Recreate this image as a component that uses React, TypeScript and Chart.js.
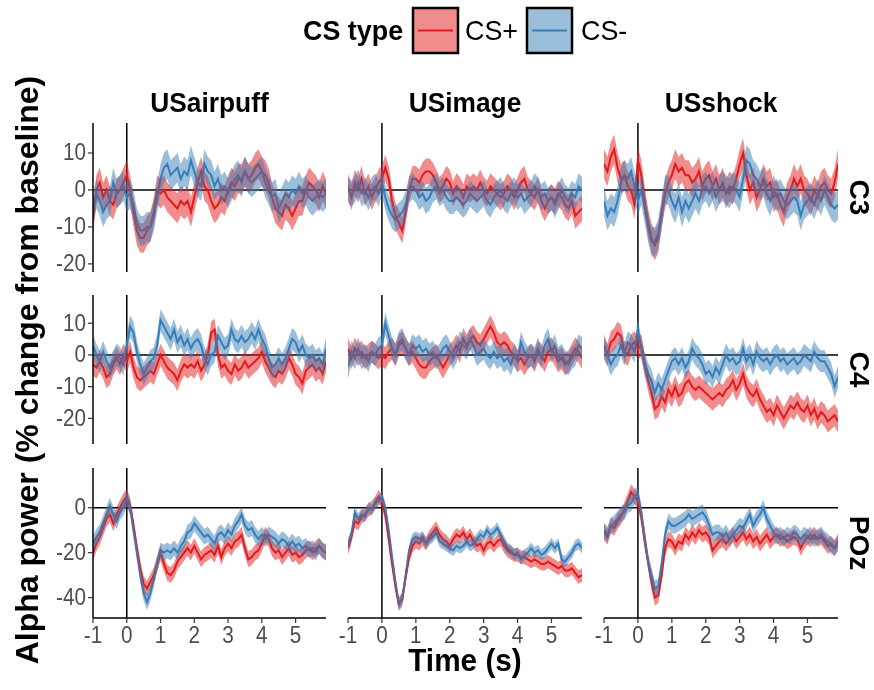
import React, { useEffect, useRef } from 'react';
import { Chart, registerables } from 'chart.js';

Chart.register(...registerables);

// ---------------- data ----------------
const TIME = [
  -1.0, -0.9, -0.8, -0.7, -0.6, -0.5, -0.4, -0.3, -0.2, -0.1,
  0.0, 0.1, 0.2, 0.3, 0.4, 0.5, 0.6, 0.7, 0.8, 0.9,
  1.0, 1.1, 1.2, 1.3, 1.4, 1.5, 1.6, 1.7, 1.8, 1.9,
  2.0, 2.1, 2.2, 2.3, 2.4, 2.5, 2.6, 2.7, 2.8, 2.9,
  3.0, 3.1, 3.2, 3.3, 3.4, 3.5, 3.6, 3.7, 3.8, 3.9,
  4.0, 4.1, 4.2, 4.3, 4.4, 4.5, 4.6, 4.7, 4.8, 4.9,
  5.0, 5.1, 5.2, 5.3, 5.4, 5.5, 5.6, 5.7, 5.8, 5.9,
];

const US_TYPES = ['USairpuff', 'USimage', 'USshock'];
const CHANNELS = ['C3', 'C4', 'POz'];
const CS_LABELS = ['CS+', 'CS-'];

const X_TICKS = [-1, 0, 1, 2, 3, 4, 5];
const Y_TICKS_C3 = [-20, -10, 0, 10];
const Y_TICKS_C4 = [-20, -10, 0, 10];
const Y_TICKS_POZ = [-40, -20, 0];
const Y_RANGE_C3 = [-22.2, 18.1];
const Y_RANGE_C4 = [-28.1, 18.9];
const Y_RANGE_POZ = [-49.1, 17.7];

// C3
const C3_AIRPUFF_CSPLUS = [
  -8, 0, 2, -2, 0, -3, -4, -1, 0, 2,
  4, 0, -6, -11, -13, -13, -11, -10, -6, 0,
  -1, 0, -2, -3, -4, -5, -3, -4, -3, -6,
  -2, 2, 5, 1, 0, -3, -5, -4, -2, -3,
  0, 2, 1, 3, 3, 5, 3, 4, 6, 7,
  5, 4, 2, -2, -5, -6, -7, -4, -5, -7,
  -5, -3, -3, 0, 2, 1, 0, -2, 1, -1,
];
const C3_AIRPUFF_CSMINUS = [
  -5, -1, -3, -6, -4, -3, 2, -1, 0, 1,
  -2, -1, -4, -9, -11, -11, -10, -10, -7, -2,
  3, 6, 7, 4, 5, 6, 3, 5, 4, 8,
  5, 2, 1, 7, 5, 4, 1, 3, 0, 1,
  -1, 1, 3, 4, 2, 5, 3, 2, 3, 4,
  5, 2, 0, -2, -1, -5, -3, -1, -2, 0,
  -1, 1, -1, 0, -2, -3, -2, -1, -2, -1,
];
const C3_IMAGE_CSPLUS = [
  1, -2, 2, 0, 3, -1, 1, -2, 0, 2,
  3, 6, 3, -3, -7, -9, -11, -6, 0, 3,
  3, 2, 4, 5, 5, 4, 2, 0, 1, 3,
  2, -1, 1, 0, -2, 1, 0, 1, 0, 2,
  0, -1, 1, 0, -1, -2, -1, 1, 0, -2,
  0, 2, 3, 0, -1, -2, 0, -3, -5, -3,
  -2, -3, -1, -2, -4, -5, -3, -7, -6, -5,
];
const C3_IMAGE_CSMINUS = [
  0, -1, 0, 2, -1, 0, -2, 0, 1, -1,
  2, -2, -5, -7, -8, -7, -6, -4, 0, 1,
  0, -2, -1, -3, -2, 0, 1, -1, 0, -2,
  -3, -3, -2, -3, -4, -3, -1, -2, -3, -2,
  -1, -3, -4, -2, -1, 0, -2, -3, -1, 0,
  -2, -1, -3, -2, -1, 1, 0, -2, -1, -3,
  -2, -4, -2, 0, -2, -3, -1, -2, 1, 0,
];
const C3_SHOCK_CSPLUS = [
  7, 5, 9, 11, 6, 3, 4, 1, 0, -4,
  8, 4, -3, -9, -13, -15, -13, -6, -1, 2,
  4, 7, 5, 6, 4, 4, 2, 3, 5, 1,
  3, 4, 1, 3, 0, 2, -1, 1, 0, 3,
  7, 10, 4, 0, 2, -2, 0, 3, 1, 2,
  -2, -1, -4, -6, -2, 0, 3, 1, 3, 0,
  -1, -3, 0, -2, 1, 2, 0, -1, 2, 7,
];
const C3_SHOCK_CSMINUS = [
  -3, -7, -5, -6, -3, 2, 4, 3, 5, 1,
  -3, 0, -5, -10, -14, -14, -12, -7, 0, 0,
  -3, -5, -2, -6, -3, -5, -3, -1, -3, 0,
  1, -1, 1, -2, 0, 1, 0, -1, 1, 0,
  -2, 3, 8, 7, 4, 3, 1, 2, -1, -3,
  0, -2, -1, -3, -4, -3, -2, -3, -7, -4,
  -3, -2, -4, -1, -3, 0, -2, -4, -5, -4,
];

// C4
const C4_AIRPUFF_CSPLUS = [
  -3, -4, -2, -4, -7, -6, -3, -1, -3, 0,
  -2, 1, -4, -7, -8, -7, -6, -5, -6, -3,
  0, -2, -4, -5, -6, -8, -5, -3, -4, -3,
  -4, -2, -5, -3, 0, 7, 8, 0, -4, -3,
  -5, -6, -3, -5, -4, -2, -4, -3, -2, -1,
  1, -2, -4, -6, -7, -5, -6, -4, -1, -3,
  -6, -7, -9, -5, -4, -3, -5, -4, -6, -2,
];
const C4_AIRPUFF_CSMINUS = [
  3, 0, -2, 1, -2, -4, -2, 0, -1, -3,
  3, 9, 7, 1, -3, -6, -4, -2, -1, 3,
  11, 9, 7, 5, 8, 4, 6, 3, 5, 2,
  4, 5, 3, -1, -3, 0, 1, 6, 4, 2,
  3, 8, 5, 4, 6, 4, 5, 7, 5, 8,
  5, 3, -1, -4, -3, -1, -3, -1, 2, 5,
  4, 1, 3, 0, -1, 0, -2, -1, -3, 2,
];
const C4_IMAGE_CSPLUS = [
  2, -1, 2, 0, 1, -1, 0, 1, 0, -1,
  0, -1, 1, 2, 0, 3, 4, 2, 0, 1,
  -1, -3, -4, -4, -2, -1, 0, -2, -4, -2,
  0, 1, 3, 1, 5, 3, 5, 6, 4, 3,
  5, 7, 9, 7, 4, 3, 4, 3, 1, 0,
  -2, -1, -3, -1, 0, -2, 1, 0, -2, 1,
  2, 0, -2, -1, -3, -2, 0, 2, 1, -1,
];
const C4_IMAGE_CSMINUS = [
  -4, 1, -1, 2, -1, 0, -2, 1, 0, 2,
  3, 10, 6, 2, 0, 4, 5, 2, 0, 3,
  2, 3, 1, 2, 0, 1, -1, 0, 2, 3,
  1, -1, 1, 4, 3, 2, 5, 3, 0, 1,
  2, 0, -1, 1, -1, 0, -2, -1, -3, 0,
  -2, 4, 1, -1, 0, -1, 2, -1, 3, 5,
  1, 3, -1, 0, -2, -3, -1, 0, 3, 2,
];
const C4_SHOCK_CSPLUS = [
  3, 0, 4, 5, 7, 6, 1, 0, 3, 4,
  2, 3, -3, -8, -12, -17, -16, -13, -15, -11,
  -13, -10, -13, -12, -9, -8, -10, -11, -10, -11,
  -12, -13, -14, -13, -12, -13, -11, -10, -8, -11,
  -9, -6, -10, -12, -13, -11, -14, -16, -18, -17,
  -19, -16, -18, -20, -18, -16, -17, -15, -17, -18,
  -16, -19, -17, -20, -18, -19, -21, -20, -19, -21,
];
const C4_SHOCK_CSMINUS = [
  2, 0, -3, -1, 0, 3, 0, 4, 3, 1,
  8, 2, -3, -6, -8, -12, -9, -11, -8, -5,
  -2, -1, -3, -1, -4, -2, 2, 0, -1, -3,
  -6, -5, -7, -4, -6, -3, 0, -2, -1, -3,
  -2, 2, -2, 0, -3, 1, -1, -2, -1, -3,
  -1, 0, -2, -1, -3, -2, -1, -3, -2, 0,
  -1, -2, 1, -1, -2, -2, -4, -6, -10, -7,
];

// POz
const POZ_AIRPUFF_CSPLUS = [
  -20, -16, -13, -9, -5, -3, -7, -3, 0, 3,
  5, 1, -8, -18, -27, -34, -36, -33, -30, -25,
  -20, -25, -29, -30, -28, -24, -22, -20, -18, -20,
  -17, -20, -23, -21, -20, -19, -21, -17, -22, -18,
  -16, -18, -15, -14, -12, -18, -23, -22, -20, -19,
  -16, -12, -14, -18, -20, -19, -22, -20, -18, -21,
  -20, -22, -21, -19, -18, -20, -18, -17, -19, -20,
];
const POZ_AIRPUFF_CSMINUS = [
  -16, -13, -11, -7, -3, 1, -3, -6, -2, 0,
  4, 0, -10, -20, -30, -38, -42, -38, -32, -25,
  -19, -20, -19, -20, -18, -20, -17, -15, -11, -10,
  -7, -9, -11, -13, -12, -14, -16, -12, -11, -13,
  -10, -12, -8, -6, -3, -8, -10, -9, -12, -14,
  -12, -14, -12, -13, -14, -16, -14, -15, -17, -15,
  -17, -16, -18, -17, -19, -18, -20, -17, -19, -20,
];
const POZ_IMAGE_CSPLUS = [
  -18, -13, -6, -7, -4, -3, -1, 0, 2, 5,
  3, -3, -14, -25, -35, -43, -41, -31, -22, -17,
  -15, -16, -14, -16, -13, -11, -9, -12, -14, -15,
  -17, -14, -12, -13, -11, -14, -12, -15, -17, -16,
  -19, -16, -15, -17, -15, -14, -17, -19, -20, -21,
  -21, -22, -22, -23, -24, -23, -24, -25, -25, -24,
  -25, -26, -27, -26, -28, -28, -27, -29, -31, -30,
];
const POZ_IMAGE_CSMINUS = [
  -16, -12, -2, -5, -3, -4, 0, -1, 2, 3,
  5, 0, -10, -22, -33, -43, -40, -30, -19, -14,
  -13, -14, -13, -16, -14, -13, -11, -15, -16, -17,
  -18, -19, -17, -18, -17, -15, -17, -16, -14, -12,
  -13, -10, -12, -11, -9, -12, -15, -18, -19, -21,
  -20, -23, -21, -20, -18, -20, -19, -21, -20, -18,
  -16, -18, -16, -23, -24, -22, -20, -17, -16, -18,
];
const POZ_SHOCK_CSPLUS = [
  -11, -13, -8, -9, -6, -4, -1, 3, 7, 5,
  3, -4, -15, -24, -33, -40, -39, -30, -18, -14,
  -15, -18, -15, -16, -12, -14, -11, -13, -10, -12,
  -11, -13, -19, -17, -15, -14, -16, -14, -12, -15,
  -13, -11, -14, -12, -15, -13, -16, -14, -12, -15,
  -13, -12, -14, -13, -15, -14, -13, -14, -18, -15,
  -13, -14, -12, -14, -13, -15, -17, -16, -18, -15,
];
const POZ_SHOCK_CSMINUS = [
  -10, -12, -8, -7, -5, -3, -2, 1, 2, 5,
  6, -2, -13, -24, -30, -36, -35, -25, -12, -6,
  -8, -8, -7, -6, -5, -3, -5, -4, -3, -2,
  -4, -8, -12, -11, -11, -13, -11, -14, -12, -10,
  -8, -9, -6, -3, -8, -5, -3, 0, -5, -8,
  -11, -13, -12, -14, -12, -13, -11, -12, -14, -12,
  -13, -12, -14, -13, -12, -14, -15, -17, -18, -16,
];

// standard error (ribbon half-width) per panel: [CS+, CS-]
const SE_C3 = [[4, 4], [3.5, 3.5], [4, 4]];
const SE_C4 = [[3.5, 3.5], [3.5, 3.5], [3.5, 3.5]];
const SE_POZ = [[3.5, 3.5], [3, 2.5], [3.5, 3.5]];

// ---------------- styling / layout ----------------
const RED = '#E41A1C';
const BLUE = '#377EB8';
const RED_FILL = 'rgba(228,26,28,0.5)';
const BLUE_FILL = 'rgba(55,126,184,0.5)';
const FONT = '"Liberation Sans", Arial, Helvetica, sans-serif';
const W = 874;
const H = 690;
const PANEL_X = [[93, 326], [348, 582], [604, 838]];
const PANEL_Y = [[123, 272], [295, 444], [468, 618]];

const SERIES = [
  [[C3_AIRPUFF_CSPLUS, C3_AIRPUFF_CSMINUS], [C3_IMAGE_CSPLUS, C3_IMAGE_CSMINUS], [C3_SHOCK_CSPLUS, C3_SHOCK_CSMINUS]],
  [[C4_AIRPUFF_CSPLUS, C4_AIRPUFF_CSMINUS], [C4_IMAGE_CSPLUS, C4_IMAGE_CSMINUS], [C4_SHOCK_CSPLUS, C4_SHOCK_CSMINUS]],
  [[POZ_AIRPUFF_CSPLUS, POZ_AIRPUFF_CSMINUS], [POZ_IMAGE_CSPLUS, POZ_IMAGE_CSMINUS], [POZ_SHOCK_CSPLUS, POZ_SHOCK_CSMINUS]],
];
const SE = [SE_C3, SE_C4, SE_POZ];
const Y_RANGES = [Y_RANGE_C3, Y_RANGE_C4, Y_RANGE_POZ];
const Y_TICKS = [Y_TICKS_C3, Y_TICKS_C4, Y_TICKS_POZ];

const pts = (vals: number[]) => TIME.map((t, i) => ({ x: t, y: vals[i] }));

// draws text with a slight horizontal condensing, like the reference's font
function textSX(ctx: CanvasRenderingContext2D, text: string, x: number, y: number, sx: number) {
  ctx.save();
  ctx.translate(x, y);
  ctx.scale(sx, 1);
  ctx.fillText(text, 0, 0);
  ctx.restore();
}

function drawFigureText(ctx: CanvasRenderingContext2D) {
  ctx.save();
  ctx.fillStyle = '#000';
  // legend
  ctx.textBaseline = 'middle';
  ctx.textAlign = 'left';
  ctx.font = `bold 28px ${FONT}`;
  textSX(ctx, 'CS type', 303, 32, 0.96);
  const keys = [
    { x: 413, fill: RED_FILL, line: RED, label: CS_LABELS[0], tx: 465 },
    { x: 527, fill: BLUE_FILL, line: BLUE, label: CS_LABELS[1], tx: 581 },
  ];
  keys.forEach((k) => {
    ctx.fillStyle = '#fff';
    ctx.fillRect(k.x, 8, 45, 45);
    ctx.fillStyle = k.fill;
    ctx.fillRect(k.x, 8, 45, 45);
    ctx.strokeStyle = '#000';
    ctx.lineWidth = 2.5;
    ctx.strokeRect(k.x, 8, 45, 45);
    ctx.strokeStyle = k.line;
    ctx.lineWidth = 2;
    ctx.beginPath();
    ctx.moveTo(k.x + 5, 30.5);
    ctx.lineTo(k.x + 40, 30.5);
    ctx.stroke();
    ctx.fillStyle = '#000';
    ctx.font = `28px ${FONT}`;
    textSX(ctx, k.label, k.tx, 32, 0.96);
  });
  // axis titles
  ctx.font = `bold 31px ${FONT}`;
  ctx.textAlign = 'center';
  textSX(ctx, 'Time (s)', 465, 662, 0.96);
  ctx.save();
  ctx.translate(29, 370);
  ctx.rotate(-Math.PI / 2);
  ctx.font = `bold 32px ${FONT}`;
  ctx.fillText('Alpha power (% change from baseline)', 0, 0);
  ctx.restore();
  ctx.restore();
}

function makePlugin(r: number, c: number) {
  return {
    id: `decor_${r}_${c}`,
    beforeDatasetsDraw(chart: any) {
      const { ctx, chartArea: a, scales } = chart;
      const x0 = scales.x.getPixelForValue(0);
      const y0 = scales.y.getPixelForValue(0);
      ctx.save();
      ctx.strokeStyle = '#000';
      ctx.lineWidth = 1.5;
      ctx.beginPath();
      ctx.moveTo(a.left, y0);
      ctx.lineTo(a.right, y0);
      ctx.moveTo(x0, a.top);
      ctx.lineTo(x0, a.bottom);
      ctx.stroke();
      ctx.restore();
    },
    afterDraw(chart: any) {
      const { ctx, chartArea: a, scales } = chart;
      ctx.save();
      ctx.strokeStyle = '#000';
      ctx.lineWidth = 1.5;
      if (c === 0) {
        ctx.beginPath();
        ctx.moveTo(a.left, a.top);
        ctx.lineTo(a.left, a.bottom);
        ctx.stroke();
        ctx.font = `23px ${FONT}`;
        ctx.fillStyle = '#4D4D4D';
        ctx.textAlign = 'right';
        ctx.textBaseline = 'middle';
        Y_TICKS[r].forEach((v) => {
          const y = scales.y.getPixelForValue(v);
          ctx.strokeStyle = '#333';
          ctx.lineWidth = 1.2;
          ctx.beginPath();
          ctx.moveTo(a.left - 5, y);
          ctx.lineTo(a.left, y);
          ctx.stroke();
          textSX(ctx, String(v), a.left - 7, y + 1, 0.9);
        });
      }
      if (r === 2) {
        ctx.strokeStyle = '#000';
        ctx.lineWidth = 1.5;
        ctx.beginPath();
        ctx.moveTo(a.left, a.bottom);
        ctx.lineTo(a.right, a.bottom);
        ctx.stroke();
        ctx.font = `23px ${FONT}`;
        ctx.fillStyle = '#4D4D4D';
        ctx.textAlign = 'center';
        ctx.textBaseline = 'top';
        X_TICKS.forEach((v) => {
          const x = scales.x.getPixelForValue(v);
          ctx.strokeStyle = '#333';
          ctx.lineWidth = 1.2;
          ctx.beginPath();
          ctx.moveTo(x, a.bottom);
          ctx.lineTo(x, a.bottom + 5);
          ctx.stroke();
          textSX(ctx, String(v), x, a.bottom + 7, 0.9);
        });
      }
      ctx.fillStyle = '#000';
      ctx.font = `bold 28px ${FONT}`;
      ctx.textAlign = 'center';
      ctx.textBaseline = 'middle';
      if (r === 0) {
        textSX(ctx, US_TYPES[c], (a.left + a.right) / 2, 104, 0.94);
      }
      if (c === 2) {
        ctx.save();
        ctx.translate(858, (a.top + a.bottom) / 2);
        ctx.rotate(Math.PI / 2);
        ctx.font = `bold 28px ${FONT}`;
        ctx.fillText(CHANNELS[r], 0, 0);
        ctx.restore();
      }
      ctx.restore();
      if (r === 0 && c === 0) drawFigureText(ctx);
    },
  };
}

function Panel({ r, c }: { r: number; c: number }) {
  const ref = useRef<HTMLCanvasElement>(null);
  useEffect(() => {
    const [plus, minus] = SERIES[r][c];
    const [seP, seM] = SE[r][c];
    const base = { pointRadius: 0, pointHoverRadius: 0, tension: 0 };
    const chart = new Chart(ref.current as HTMLCanvasElement, {
      type: 'line',
      data: {
        datasets: [
          { ...base, label: 'CS- upper', data: pts(minus.map((v) => v + seM)), fill: '+1', backgroundColor: BLUE_FILL, borderWidth: 0, order: 0 },
          { ...base, label: 'CS- lower', data: pts(minus.map((v) => v - seM)), fill: false, borderWidth: 0, order: 0 },
          { ...base, label: 'CS+ upper', data: pts(plus.map((v) => v + seP)), fill: '+1', backgroundColor: RED_FILL, borderWidth: 0, order: 0 },
          { ...base, label: 'CS+ lower', data: pts(plus.map((v) => v - seP)), fill: false, borderWidth: 0, order: 0 },
          { ...base, label: 'CS-', data: pts(minus), borderColor: BLUE, borderWidth: 2, fill: false, order: 1 },
          { ...base, label: 'CS+', data: pts(plus), borderColor: RED, borderWidth: 2, fill: false, order: 1 },
        ],
      } as any,
      options: {
        animation: false,
        responsive: false,
        devicePixelRatio: 1,
        events: [],
        layout: {
          padding: {
            left: PANEL_X[c][0],
            right: W - PANEL_X[c][1],
            top: PANEL_Y[r][0],
            bottom: H - PANEL_Y[r][1],
          },
        },
        scales: {
          x: { type: 'linear', min: -1, max: 5.9, display: false },
          y: { type: 'linear', min: Y_RANGES[r][0], max: Y_RANGES[r][1], display: false },
        },
        plugins: {
          legend: { display: false },
          tooltip: { enabled: false },
        },
      } as any,
      plugins: [makePlugin(r, c)],
    });
    return () => chart.destroy();
  }, [r, c]);
  return (
    <canvas
      ref={ref}
      width={W}
      height={H}
      style={{ position: 'absolute', left: 0, top: 0, width: W, height: H }}
    />
  );
}

export default function App() {
  const cells: JSX.Element[] = [];
  for (let r = 0; r < 3; r++) {
    for (let c = 0; c < 3; c++) {
      cells.push(<Panel key={`${r}-${c}`} r={r} c={c} />);
    }
  }
  return (
    <div style={{ position: 'absolute', left: 0, top: 0, width: W, height: H, background: '#fff', overflow: 'hidden' }}>
      {cells}
    </div>
  );
}
